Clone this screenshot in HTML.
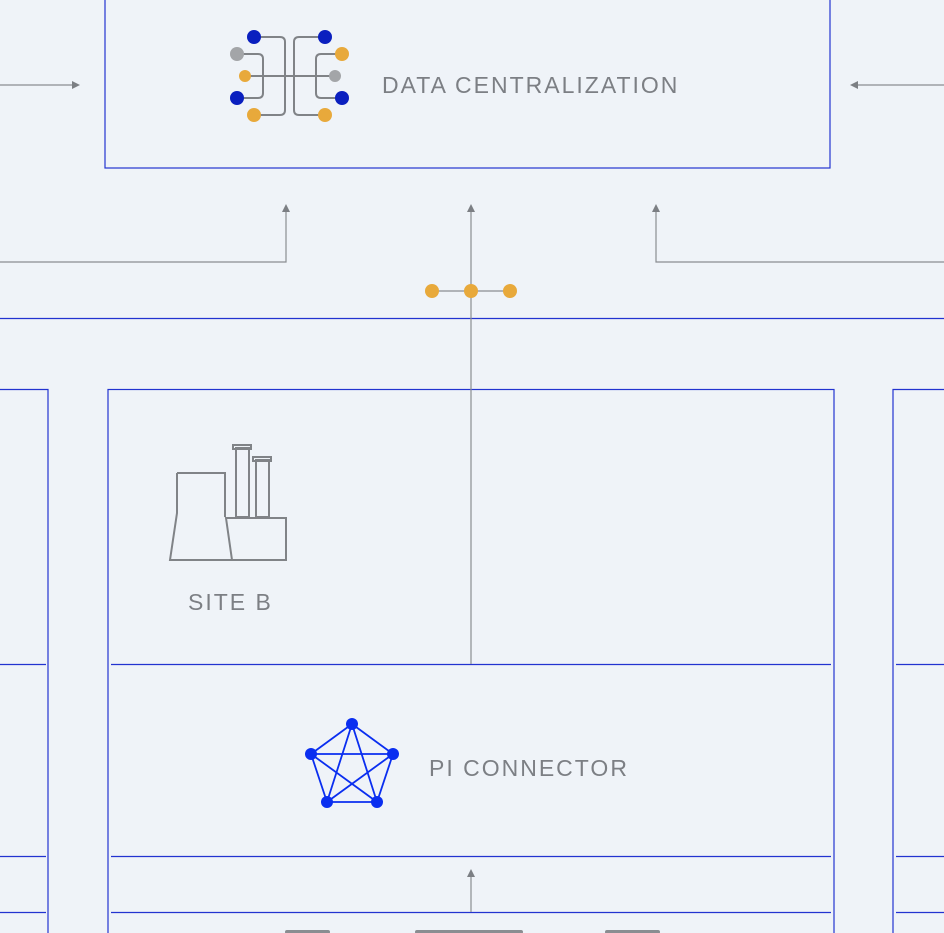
<!DOCTYPE html>
<html><head><style>
html,body{margin:0;padding:0;background:#eff3f8;}
svg{display:block}
text{font-family:"Liberation Sans",sans-serif;fill:#7c7f84;letter-spacing:2px}
</style></head><body>
<svg width="944" height="933" viewBox="0 0 944 933" xmlns="http://www.w3.org/2000/svg">
<rect width="944" height="933" fill="#eff3f8"/>
<defs><marker id="a" markerWidth="8" markerHeight="8" refX="4" refY="4" orient="auto" markerUnits="userSpaceOnUse"><path d="M0,0 L8,4 L0,8 z" fill="#7c7f84"/></marker></defs>
<g fill="none" stroke="#2233d0" stroke-width="1.2">
<rect x="105" y="-5" width="725" height="173"/>
<line x1="0" y1="318.5" x2="944" y2="318.5"/>
<rect x="108" y="389.5" width="726" height="560"/>
<polyline points="0,389.5 48,389.5 48,940"/>
<polyline points="944,389.5 893,389.5 893,940"/>
<line x1="111" y1="664.5" x2="831" y2="664.5"/>
<line x1="111" y1="856.5" x2="831" y2="856.5"/>
<line x1="111" y1="912.5" x2="831" y2="912.5"/>
<line x1="0" y1="664.5" x2="46" y2="664.5"/>
<line x1="0" y1="856.5" x2="46" y2="856.5"/>
<line x1="0" y1="912.5" x2="46" y2="912.5"/>
<line x1="896" y1="664.5" x2="944" y2="664.5"/>
<line x1="896" y1="856.5" x2="944" y2="856.5"/>
<line x1="896" y1="912.5" x2="944" y2="912.5"/>
</g>
<g fill="none" stroke="#8a8d91" stroke-width="1.2">
<line x1="0" y1="85" x2="76" y2="85" marker-end="url(#a)"/>
<line x1="944" y1="85" x2="854" y2="85" marker-end="url(#a)"/>
<polyline points="0,262 286,262 286,208" marker-end="url(#a)"/>
<polyline points="944,262 656,262 656,208" marker-end="url(#a)"/>
<line x1="471" y1="664" x2="471" y2="208" marker-end="url(#a)"/>
<line x1="471" y1="912" x2="471" y2="873" marker-end="url(#a)"/>
<line x1="432" y1="291" x2="510" y2="291"/>
</g>
<g fill="#e8a93b"><circle cx="432" cy="291" r="7"/><circle cx="471" cy="291" r="7"/><circle cx="510" cy="291" r="7"/></g>
<!-- data icon -->
<g fill="none" stroke="#808387" stroke-width="2">
<path d="M254,37 H280 Q285,37 285,42 V110 Q285,115 280,115 H254"/>
<path d="M325,37 H299 Q294,37 294,42 V110 Q294,115 299,115 H325"/>
<path d="M237,54 H258 Q263,54 263,59 V93 Q263,98 258,98 H237"/>
<path d="M342,54 H321 Q316,54 316,59 V93 Q316,98 321,98 H342"/>
<line x1="245" y1="76" x2="335" y2="76"/>
</g>
<g><circle cx="254" cy="37" r="7" fill="#0a1fbf"/><circle cx="325" cy="37" r="7" fill="#0a1fbf"/>
<circle cx="237" cy="54" r="7" fill="#a3a5a8"/><circle cx="342" cy="54" r="7" fill="#e8a93b"/>
<circle cx="245" cy="76" r="6" fill="#e8a93b"/><circle cx="335" cy="76" r="6" fill="#a3a5a8"/>
<circle cx="237" cy="98" r="7" fill="#0a1fbf"/><circle cx="342" cy="98" r="7" fill="#0a1fbf"/>
<circle cx="254" cy="115" r="7" fill="#e8a93b"/><circle cx="325" cy="115" r="7" fill="#e8a93b"/></g>
<text x="382" y="93" font-size="23">DATA CENTRALIZATION</text>
<!-- factory -->
<g fill="none" stroke="#808387" stroke-width="2">
<path d="M177,473 H225 V517 M177,473 V513 L170,560 H286 V518 H226 L232,560"/>
<rect x="236" y="448" width="13" height="69"/><rect x="233" y="445" width="18" height="4"/>
<rect x="256" y="460" width="13" height="57"/><rect x="253" y="457" width="18" height="4"/>
</g>
<text x="188" y="610" font-size="23">SITE B</text>
<!-- pentagon -->
<g stroke="#0a2ef0" stroke-width="1.8" fill="none">
<polygon points="352,724 393,754 377,802 327,802 311,754"/>
<polyline points="352,724 327,802 393,754 311,754 377,802 352,724"/>
</g>
<g fill="#0a2ef0"><circle cx="352" cy="724" r="6"/><circle cx="393" cy="754" r="6"/><circle cx="377" cy="802" r="6"/><circle cx="327" cy="802" r="6"/><circle cx="311" cy="754" r="6"/></g>
<text x="429" y="776" font-size="23">PI CONNECTOR</text>
<g fill="#8a8d91"><rect x="285" y="930" width="45" height="4" rx="2"/><rect x="415" y="930" width="108" height="4" rx="2"/><rect x="605" y="930" width="55" height="4" rx="2"/></g>
</svg>
</body></html>
